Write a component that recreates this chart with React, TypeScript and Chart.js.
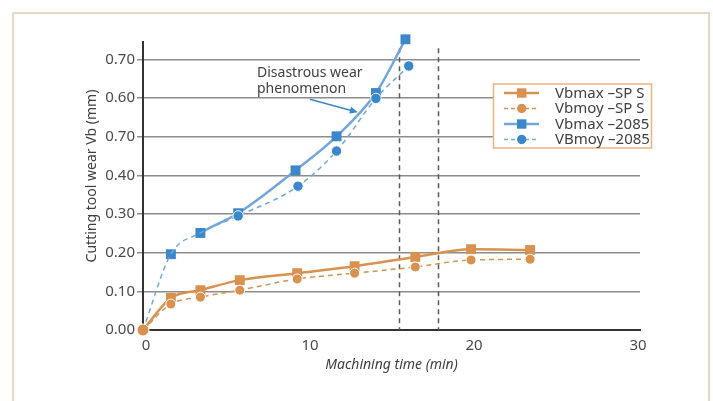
import React, { useEffect, useRef } from 'react';
import { Chart, registerables } from 'chart.js';

Chart.register(...registerables);

// ---- data ----
const xTicks = [0, 10, 20, 30];
const yTicks = [0, 0.1, 0.2, 0.3, 0.4, 0.5, 0.6, 0.7];
const yTickLabels = ['0.00', '0.10', '0.20', '0.30', '0.40', '0.70', '0.60', '0.70'];

const timeSP = [0, 1.7, 3.5, 5.9, 9.4, 12.9, 16.6, 20.0, 23.6];
const vbmaxSP = [0, 0.083, 0.103, 0.129, 0.147, 0.165, 0.189, 0.209, 0.207];
const vbmoySP = [0, 0.067, 0.085, 0.103, 0.132, 0.147, 0.163, 0.181, 0.183];

const timeMax2085 = [1.7, 3.5, 5.8, 9.3, 11.8, 14.2, 16.0];
const vbmax2085 = [0.196, 0.251, 0.302, 0.413, 0.501, 0.613, 0.752];

const timeMoy2085 = [0, 1.7, 3.5, 5.8, 9.45, 11.8, 14.2, 16.2];
const vbmoy2085 = [0, 0.196, 0.251, 0.295, 0.372, 0.463, 0.599, 0.683];

const legendLabels = ['Vbmax –SP S', 'Vbmoy –SP S', 'Vbmax –2085', 'VBmoy –2085'];
const criticalTimes = [15.6, 18.0];
const annotationLines = ['Disastrous wear', 'phenomenon'];
const xTitle = 'Machining time (min)';
const yTitle = 'Cutting tool wear Vb (mm)';

// ---- styles ----
const FONT = '"Noto Sans", "Open Sans", sans-serif';
const ORANGE = '#d99150';
const BLUE_MARK = '#3a87c9';
const BLUE_LINE = '#72a6dc';
const TEXT = '#404040';

const pts = (xs: number[], ys: number[]) => xs.map((x, i) => ({ x, y: ys[i] }));

const overlay = {
  id: 'overlay',
  beforeDatasetsDraw(chart: any) {
    const { ctx, scales } = chart;
    const { x, y } = scales;
    ctx.save();
    ctx.strokeStyle = '#5a5a5a';
    ctx.lineWidth = 1.5;
    ctx.setLineDash([5, 4]);
    criticalTimes.forEach((t) => {
      const px = Math.round(x.getPixelForValue(t)) + 0.5;
      ctx.beginPath();
      ctx.moveTo(px, y.getPixelForValue(0.729));
      ctx.lineTo(px, y.getPixelForValue(0));
      ctx.stroke();
    });
    ctx.restore();
  },
  afterDraw(chart: any) {
    const { ctx, scales } = chart;
    const { x, y } = scales;
    ctx.save();

    // y axis title
    ctx.save();
    ctx.translate(92, 176);
    ctx.rotate(-Math.PI / 2);
    ctx.font = `14px ${FONT}`;
    ctx.fillStyle = TEXT;
    ctx.textAlign = 'center';
    ctx.textBaseline = 'middle';
    ctx.fillText(yTitle, 0, 0);
    ctx.restore();

    // annotation text
    ctx.font = `14px ${FONT}`;
    ctx.fillStyle = TEXT;
    ctx.textAlign = 'left';
    ctx.textBaseline = 'middle';
    const tx = x.getPixelForValue(6.95);
    ctx.fillText(annotationLines[0], tx, y.getPixelForValue(0.664));
    ctx.fillText(annotationLines[1], tx, y.getPixelForValue(0.623));

    // arrow
    const x0 = x.getPixelForValue(10.18), y0 = y.getPixelForValue(0.597);
    const x1 = x.getPixelForValue(13.1), y1 = y.getPixelForValue(0.563);
    const ang = Math.atan2(y1 - y0, x1 - x0);
    ctx.strokeStyle = BLUE_MARK;
    ctx.fillStyle = BLUE_MARK;
    ctx.lineWidth = 1.5;
    ctx.beginPath();
    ctx.moveTo(x0, y0);
    ctx.lineTo(x1 - 6 * Math.cos(ang), y1 - 6 * Math.sin(ang));
    ctx.stroke();
    ctx.beginPath();
    ctx.moveTo(x1, y1);
    ctx.lineTo(x1 - 8 * Math.cos(ang) + 3.5 * Math.sin(ang), y1 - 8 * Math.sin(ang) - 3.5 * Math.cos(ang));
    ctx.lineTo(x1 - 8 * Math.cos(ang) - 3.5 * Math.sin(ang), y1 - 8 * Math.sin(ang) + 3.5 * Math.cos(ang));
    ctx.closePath();
    ctx.fill();

    // legend
    const bx = 493.5, by = 84, bw = 158, bh = 64;
    ctx.fillStyle = '#ffffff';
    ctx.fillRect(bx, by, bw, bh);
    ctx.strokeStyle = '#eeb27f';
    ctx.lineWidth = 1.5;
    ctx.strokeRect(bx, by, bw, bh);
    const colors = [ORANGE, ORANGE, BLUE_LINE, BLUE_LINE];
    const marks = [ORANGE, ORANGE, BLUE_MARK, BLUE_MARK];
    legendLabels.forEach((label, i) => {
      const ry = 93 + i * 15.5;
      const dashed = i % 2 === 1;
      ctx.strokeStyle = colors[i];
      ctx.lineWidth = dashed ? 1.5 : 2.5;
      ctx.setLineDash(dashed ? [4, 3] : []);
      ctx.beginPath();
      ctx.moveTo(504, ry);
      ctx.lineTo(539, ry);
      ctx.stroke();
      ctx.setLineDash([]);
      ctx.fillStyle = marks[i];
      if (dashed) {
        ctx.beginPath();
        ctx.arc(521.7, ry, 4.7, 0, Math.PI * 2);
        ctx.fill();
      } else {
        ctx.fillRect(521.7 - 4.7, ry - 4.7, 9.4, 9.4);
      }
      ctx.fillStyle = TEXT;
      ctx.font = `15px ${FONT}`;
      ctx.textAlign = 'left';
      ctx.textBaseline = 'middle';
      ctx.fillText(label, 555, ry + 0.5);
    });

    ctx.restore();
  },
};

export default function App() {
  const ref = useRef<HTMLCanvasElement>(null);

  useEffect(() => {
    if (!ref.current) return;
    const chart = new Chart(ref.current, {
      type: 'line',
      data: {
        datasets: [
          {
            label: legendLabels[1],
            data: pts(timeSP, vbmoySP),
            borderColor: ORANGE,
            borderWidth: 1.5,
            borderDash: [5, 4],
            pointStyle: 'circle',
            pointRadius: (c: any) => (c.dataIndex === 0 ? 6 : 5),
            pointBackgroundColor: ORANGE,
            pointBorderColor: '#ffffff',
            pointBorderWidth: 1,
            cubicInterpolationMode: 'monotone',
            clip: false,
            order: 0,
          },
          {
            label: legendLabels[3],
            data: pts(timeMoy2085, vbmoy2085),
            borderColor: BLUE_LINE,
            borderWidth: 1.5,
            borderDash: [5, 4],
            pointStyle: 'circle',
            pointRadius: (c: any) => (c.dataIndex < 3 ? 0 : 5.2),
            pointBackgroundColor: BLUE_MARK,
            pointBorderColor: '#ffffff',
            pointBorderWidth: 1,
            cubicInterpolationMode: 'monotone',
            clip: false,
            order: 1,
          },
          {
            label: legendLabels[2],
            data: pts(timeMax2085, vbmax2085),
            borderColor: BLUE_LINE,
            borderWidth: 2.5,
            pointStyle: 'rect',
            pointRadius: 7,
            pointBackgroundColor: BLUE_MARK,
            pointBorderWidth: 0,
            cubicInterpolationMode: 'monotone',
            segment: {
              borderColor: (c: any) => (c.p0DataIndex === 0 ? 'rgba(0,0,0,0)' : undefined),
            },
            clip: false,
            order: 2,
          },
          {
            label: legendLabels[0],
            data: pts(timeSP, vbmaxSP),
            borderColor: ORANGE,
            borderWidth: 2.5,
            pointStyle: 'rect',
            pointRadius: (c: any) => (c.dataIndex === 0 ? 0 : 7),
            pointBackgroundColor: ORANGE,
            pointBorderWidth: 0,
            cubicInterpolationMode: 'monotone',
            clip: false,
            order: 3,
          },
        ],
      },
      options: {
        animation: false,
        responsive: false,
        maintainAspectRatio: false,
        layout: { padding: { left: 0, right: 73, top: 42, bottom: 0 } },
        plugins: { legend: { display: false }, tooltip: { enabled: false } },
        scales: {
          x: {
            type: 'linear',
            min: 0,
            max: 30.3,
            afterBuildTicks: (s: any) => {
              s.ticks = xTicks.map((v) => ({ value: v }));
            },
            afterFit: (s: any) => {
              s.height = 71;
            },
            grid: { display: false, drawTicks: false },
            border: { display: true, color: '#333333', width: 2 },
            ticks: {
              padding: 7,
              labelOffset: 3,
              maxRotation: 0,
              color: '#4a4a4a',
              font: { family: FONT, size: 15 },
              callback: (v: any) => String(v),
            },
            title: {
              display: true,
              text: xTitle,
              color: TEXT,
              font: { family: FONT, size: 14, style: 'italic' },
              padding: { top: 0, bottom: 28 },
            },
          },
          y: {
            type: 'linear',
            min: 0,
            max: 0.745,
            afterBuildTicks: (s: any) => {
              s.ticks = yTicks.map((v) => ({ value: v }));
            },
            afterFit: (s: any) => {
              s.width = 143;
            },
            grid: { color: '#8c8c8c', lineWidth: 1.5, tickLength: 6, drawTicks: true },
            border: { display: true, color: '#333333', width: 2 },
            ticks: {
              padding: 2,
              color: '#4a4a4a',
              font: { family: FONT, size: 15 },
              callback: (_v: any, i: number) => yTickLabels[i],
            },
          },
        },
      },
      plugins: [overlay],
    } as any);
    return () => chart.destroy();
  }, []);

  return (
    <div style={{ position: 'fixed', left: 0, top: 0, width: 713, height: 401, background: '#fff' }}>
      <div
        style={{
          position: 'absolute',
          left: 12,
          top: 12,
          width: 694,
          height: 400,
          borderTop: '2px solid #e6d8c3',
          borderLeft: '2px solid #e6d8c3',
          borderRight: '2px solid #e6d8c3',
        }}
      />
      <canvas ref={ref} width={713} height={401} style={{ position: 'absolute', left: 0, top: 0 }} />
    </div>
  );
}
